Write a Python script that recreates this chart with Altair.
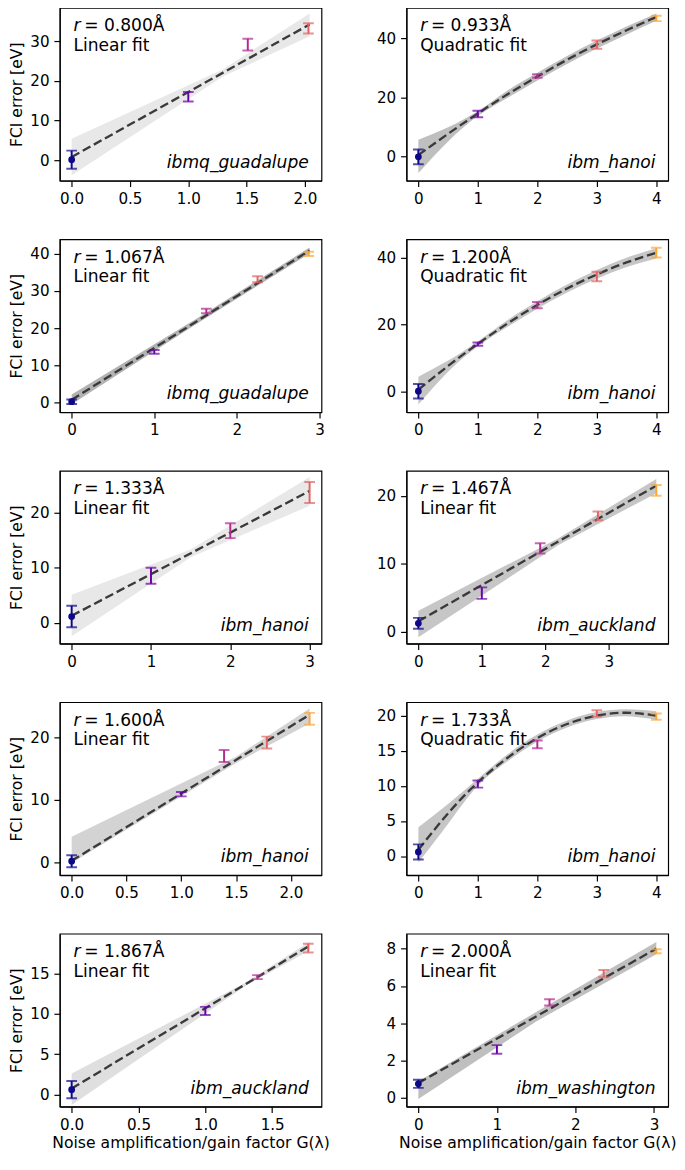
import altair as alt
import pandas as pd

# ---------------- data ----------------
R_VALUES = ["0.800", "0.933", "1.067", "1.200", "1.333",
            "1.467", "1.600", "1.733", "1.867", "2.000"]
FIT_KIND = ["Linear fit", "Quadratic fit", "Linear fit", "Quadratic fit", "Linear fit",
            "Linear fit", "Linear fit", "Quadratic fit", "Linear fit", "Linear fit"]
DEVICES = ["ibmq_guadalupe", "ibm_hanoi", "ibmq_guadalupe", "ibm_hanoi", "ibm_hanoi",
           "ibm_auckland", "ibm_hanoi", "ibm_hanoi", "ibm_auckland", "ibm_washington"]

GAIN = [
    [0, 1.0, 1.51, 2.03],
    [0, 1, 2, 3, 4],
    [0, 1.0, 1.63, 2.25, 2.87],
    [0, 1, 2, 3, 4],
    [0, 1, 2, 3],
    [0, 1.0, 1.92, 2.83, 3.75],
    [0, 1.0, 1.39, 1.78, 2.17],
    [0, 1, 2, 3, 4],
    [0, 1.0, 1.39, 1.77],
    [0, 1.0, 1.67, 2.36, 3.03],
]
ERROR_EV = [
    [0.1, 16.0, 29.2, 33.3],
    [-0.2, 14.3, 27.2, 37.8, 46.7],
    [0.3, 13.65, 24.6, 33.1, 39.9],
    [0.15, 14.2, 25.85, 34.4, 41.5],
    [1.15, 8.55, 16.7, 23.6],
    [1.2, 5.65, 12.25, 17.05, 20.8],
    [0.18, 10.9, 17.0, 19.15, 22.95],
    [0.6, 10.25, 15.9, 20.3, 19.85],
    [0.6, 10.4, 14.6, 18.2],
    [0.76, 2.6, 5.12, 6.66, 7.86],
]
ERROR_SD = [
    [2.3, 1.2, 1.5, 1.3],
    [2.5, 1.1, 0.6, 1.4, 0.9],
    [0.6, 0.5, 0.6, 0.8, 0.55],
    [2.15, 0.5, 0.95, 1.4, 1.45],
    [1.95, 1.45, 1.35, 1.9],
    [0.8, 0.85, 0.75, 0.65, 0.8],
    [0.95, 0.35, 0.95, 0.95, 0.95],
    [1.07, 0.5, 0.55, 0.45, 0.45],
    [1.07, 0.5, 0.25, 0.55],
    [0.22, 0.23, 0.17, 0.19, 0.11],
]
FIT_X = [
    [0, 2.04],
    [0, 0.5, 1, 1.5, 2, 2.5, 3, 3.5, 4],
    [0, 2.88],
    [0, 0.5, 1, 1.5, 2, 2.5, 3, 3.5, 4],
    [0, 3.0],
    [0, 3.75],
    [0, 2.17],
    [0, 0.5, 1, 1.5, 2, 2.5, 3, 3.5, 4],
    [0, 1.78],
    [0, 3.03],
]
FIT_Y = [
    [0.8, 34.3],
    [0.4, 7.6, 14.5, 21.0, 27.0, 32.7, 37.9, 42.7, 47.2],
    [0.8, 40.8],
    [0.6, 7.7, 14.3, 20.4, 25.9, 30.8, 35.0, 38.6, 41.5],
    [1.3, 23.9],
    [1.5, 21.5],
    [0.25, 23.6],
    [0.9, 6.1, 10.5, 14.0, 16.8, 18.8, 20.0, 20.4, 20.0],
    [0.75, 18.5],
    [0.8, 8.0],
]
BAND_X = [
    [0, 1.3, 2.04],
    [0, 0.5, 1, 1.5, 2, 2.5, 3, 3.5, 4],
    [0, 1.5, 2.88],
    [0, 0.5, 1, 1.5, 2, 2.5, 3, 3.5, 4],
    [0, 1.5, 3.0],
    [0, 2.2, 3.75],
    [0, 1.5, 2.17],
    [0, 0.5, 1, 1.5, 2, 2.5, 3, 3.5, 4],
    [0, 1.3, 1.78],
    [0, 1.5, 3.03],
]
BAND_LO = [
    [-3.8, 21.2, 31.3],
    [-5.7, 5.0, 13.6, 19.8, 25.7, 31.3, 36.5, 41.3, 45.9],
    [-0.4, 21.0, 40.0],
    [-3.8, 6.0, 13.6, 19.4, 24.8, 29.6, 33.7, 37.2, 39.8],
    [-2.4, 11.9, 21.2],
    [-0.85, 12.7, 20.4],
    [-0.1, 15.9, 22.2],
    [-0.9, 4.6, 10.0, 13.5, 16.3, 18.3, 19.5, 19.9, 19.4],
    [-1.3, 13.5, 17.95],
    [-0.05, 4.1, 7.7],
]
BAND_HI = [
    [5.4, 23.0, 37.1],
    [5.6, 9.8, 15.3, 22.3, 28.3, 34.0, 39.2, 44.0, 48.4],
    [2.2, 22.4, 41.6],
    [4.5, 9.3, 15.0, 21.4, 27.0, 32.0, 36.3, 40.0, 42.8],
    [5.1, 13.3, 26.4],
    [3.05, 13.7, 22.5],
    [4.1, 16.9, 24.6],
    [4.1, 7.4, 11.0, 14.5, 17.3, 19.3, 20.5, 20.9, 20.6],
    [2.6, 13.9, 19.0],
    [0.9, 4.6, 8.35],
]
X_DOMAIN = [
    [-0.102, 2.142], [-0.2, 4.2], [-0.144, 3.024], [-0.2, 4.2], [-0.15, 3.15],
    [-0.1875, 3.9375], [-0.1085, 2.2785], [-0.2, 4.2], [-0.089, 1.869], [-0.1515, 3.1815],
]
Y_DOMAIN = [
    [-5.2, 38.5], [-8.3, 50.3], [-2.5, 43.8], [-6.1, 45.5], [-3.75, 27.55],
    [-1.8, 23.7], [-2.04, 25.6], [-2.7, 21.9], [-1.5, 20.0], [-0.46, 8.8],
]
X_TICKS = [
    [0, 0.5, 1.0, 1.5, 2.0], [0, 1, 2, 3, 4], [0, 1, 2, 3], [0, 1, 2, 3, 4], [0, 1, 2, 3],
    [0, 1, 2, 3], [0, 0.5, 1.0, 1.5, 2.0], [0, 1, 2, 3, 4], [0, 0.5, 1.0, 1.5], [0, 1, 2, 3],
]
Y_TICKS = [
    [0, 10, 20, 30], [0, 20, 40], [0, 10, 20, 30, 40], [0, 20, 40], [0, 10, 20],
    [0, 10, 20], [0, 10, 20], [0, 5, 10, 15, 20], [0, 5, 10, 15], [0, 2, 4, 6, 8],
]
X_FORMAT = [".1f", "d", "d", "d", "d", "d", ".1f", "d", ".1f", "d"]

COLORS = ["#0d0887", "#6a00a8", "#b12a90", "#e16462", "#fca636"]
BAND_OPACITY = [0.18, 0.5, 0.6, 0.45, 0.18, 0.45, 0.35, 0.45, 0.25, 0.5]
CURVE = ["linear", "natural", "linear", "natural", "linear",
         "linear", "linear", "natural", "linear", "linear"]

Y_TITLE = "FCI error [eV]"
X_TITLE = "Noise amplification/gain factor G(λ)"

W, H = 268, 177
FONT = "DejaVu Sans"
TICK_FS = 15.5
TITLE_FS = 16
ANN_FS = 17.5


def panel(i, left, bottom):
    x_axis = alt.Axis(values=X_TICKS[i], format=X_FORMAT[i],
                      title=X_TITLE if bottom else None,
                      minExtent=24, maxExtent=24, titlePadding=5)
    y_axis = alt.Axis(values=Y_TICKS[i], format="d",
                      title=Y_TITLE if left else None,
                      minExtent=30, maxExtent=30, titlePadding=6)
    xs = alt.Scale(domain=X_DOMAIN[i], nice=False, zero=False)
    ys = alt.Scale(domain=Y_DOMAIN[i], nice=False, zero=False)

    band_df = pd.DataFrame({"x": BAND_X[i], "lo": BAND_LO[i], "hi": BAND_HI[i]})
    fit_df = pd.DataFrame({"x": FIT_X[i], "y": FIT_Y[i]})
    n = len(GAIN[i])
    pts_df = pd.DataFrame({"x": GAIN[i], "y": ERROR_EV[i], "s": ERROR_SD[i],
                           "c": COLORS[:n]})
    dot_df = pd.DataFrame({"x": GAIN[i][:1], "y": ERROR_EV[i][:1], "c": COLORS[:1]})

    band = alt.Chart(band_df).mark_area(clip=True, color="#808080",
                                        opacity=BAND_OPACITY[i],
                                        interpolate=CURVE[i]).encode(
        x=alt.X("x:Q", scale=xs, axis=x_axis),
        y=alt.Y("lo:Q", scale=ys, axis=y_axis),
        y2="hi:Q",
    )
    fit = alt.Chart(fit_df).mark_line(clip=True, color="#3a3a3a", strokeWidth=2.4,
                                      strokeDash=[9, 4], interpolate=CURVE[i]).encode(
        x=alt.X("x:Q", scale=xs, axis=x_axis),
        y=alt.Y("y:Q", scale=ys, axis=y_axis),
    )
    base = alt.Chart(pts_df).transform_calculate(
        lo="datum.y - datum.s", hi="datum.y + datum.s")
    bars = base.mark_rule(clip=True, strokeWidth=2).encode(
        x=alt.X("x:Q", scale=xs, axis=x_axis),
        y=alt.Y("lo:Q", scale=ys, axis=y_axis),
        y2="hi:Q",
        color=alt.Color("c:N", scale=None),
    )
    cap_lo = base.mark_tick(clip=True, orient="horizontal", size=11, thickness=2).encode(
        x=alt.X("x:Q", scale=xs, axis=x_axis),
        y=alt.Y("lo:Q", scale=ys, axis=y_axis),
        color=alt.Color("c:N", scale=None),
    )
    cap_hi = base.mark_tick(clip=True, orient="horizontal", size=11, thickness=2).encode(
        x=alt.X("x:Q", scale=xs, axis=x_axis),
        y=alt.Y("hi:Q", scale=ys, axis=y_axis),
        color=alt.Color("c:N", scale=None),
    )
    dot = alt.Chart(dot_df).mark_circle(size=48, opacity=1).encode(
        x=alt.X("x:Q", scale=xs, axis=x_axis),
        y=alt.Y("y:Q", scale=ys, axis=y_axis),
        color=alt.Color("c:N", scale=None),
    )

    ann_df = pd.DataFrame({"r": ["r"], "v": ["= " + R_VALUES[i] + "Å"],
                           "k": [FIT_KIND[i]], "d": [DEVICES[i]]})
    ann = alt.Chart(ann_df)
    t_r = ann.mark_text(font=FONT, fontSize=ANN_FS, fontStyle="italic", align="left",
                        baseline="alphabetic", color="black").encode(
        text="r:N", x=alt.value(14), y=alt.value(24))
    t_v = ann.mark_text(font=FONT, fontSize=ANN_FS, align="left",
                        baseline="alphabetic", color="black").encode(
        text="v:N", x=alt.value(25), y=alt.value(24))
    t_k = ann.mark_text(font=FONT, fontSize=ANN_FS, align="left",
                        baseline="alphabetic", color="black").encode(
        text="k:N", x=alt.value(14), y=alt.value(44))
    t_d = ann.mark_text(font=FONT, fontSize=ANN_FS, fontStyle="italic", align="right",
                        baseline="alphabetic", color="black").encode(
        text="d:N", x=alt.value(W - 13), y=alt.value(H - 13))

    return alt.layer(band, fit, bars, cap_lo, cap_hi, dot, t_r, t_v, t_k, t_d).properties(
        width=W, height=H)


panels = [panel(i, i % 2 == 0, i >= 8) for i in range(10)]

chart = alt.concat(*panels, columns=2).properties(
    spacing={"row": 31, "column": 46},
    padding={"left": 0, "top": -15, "right": 0, "bottom": 0},
).configure_view(
    stroke="black", strokeWidth=1.2
).configure_axis(
    labelFont=FONT, labelFontSize=TICK_FS, labelColor="black",
    titleFont=FONT, titleFontSize=TITLE_FS, titleFontWeight="normal", titleColor="black",
    tickColor="black", tickSize=6, tickWidth=1.2, labelPadding=5,
    domainColor="black", domainWidth=1.2, grid=False,
).configure_text(font=FONT)

chart.save("out.html", embed_options={"renderer": "svg", "actions": False})
